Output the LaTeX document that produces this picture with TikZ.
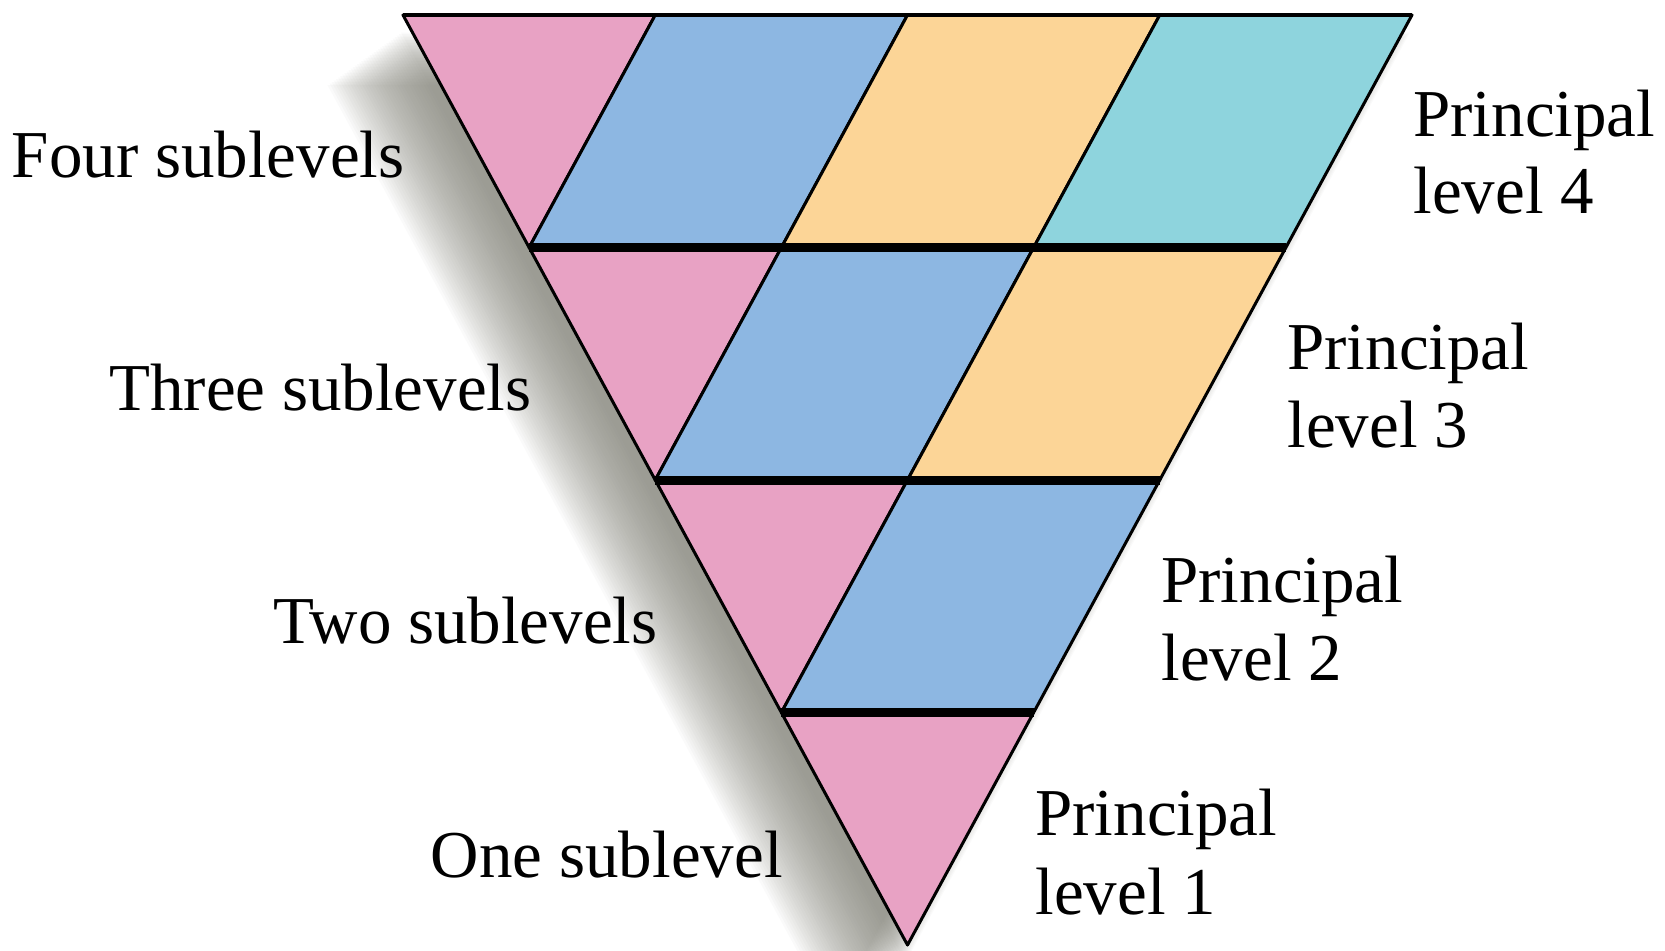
\documentclass[tikz,border=0pt]{standalone}
\usepackage{fontspec}
\setmainfont{Liberation Serif}
\usetikzlibrary{calc}
\definecolor{pinkc}{HTML}{E8A2C4}
\definecolor{bluec}{HTML}{8DB7E2}
\definecolor{orangec}{HTML}{FCD597}
\definecolor{tealc}{HTML}{8ED4DD}
\definecolor{shadowc}{HTML}{77776C}
\begin{document}
\begin{tikzpicture}[x=0.5pt,y=-0.5pt,
  piece/.style={draw=black,line width=1.5pt,line join=round},
  sep/.style={draw=black,line width=4.5pt},
  lab/.style={font=\fontsize{33.5}{39}\selectfont,inner sep=0pt}]
\useasboundingbox (0,0) rectangle (1665,950);
\clip (0,0) rectangle (1665,950);
% grid points
\foreach \r in {0,...,4}{
  \pgfmathtruncatemacro\kmax{4-\r}
  \foreach \k in {0,...,\kmax}{
    \coordinate (p-\r-\k) at ({403+\r*126.125+\k*252.25},{15+\r*232.5});
  }
}
% soft shadow on the left
\foreach \i in {1,...,36}{
  \fill[shadowc,opacity=0.035] ($(p-0-0)+(-\i*2.1,16+\i*1.5)$) -- ($(p-0-4)+(-\i*2.1,16+\i*1.5)$) -- ($(p-4-0)+(-\i*2.1,16+\i*1.5)$) -- cycle;
}
\fill[white] (p-0-0) -- (p-0-4) -- (p-4-0) -- cycle;
% pieces
\foreach \r in {0,...,3}{
  \pgfmathtruncatemacro\rn{\r+1}
  \pgfmathtruncatemacro\kmax{3-\r}
  \fill[pinkc,piece] (p-\r-0) -- (p-\r-1) -- (p-\rn-0) -- cycle;
  \foreach \k/\c in {1/bluec,2/orangec,3/tealc}{
    \ifnum\k>\kmax\else
      \pgfmathtruncatemacro\kp{\k+1}
      \pgfmathtruncatemacro\km{\k-1}
      \fill[\c,piece] (p-\r-\k) -- (p-\r-\kp) -- (p-\rn-\k) -- (p-\rn-\km) -- cycle;
    \fi
  }
}
% separators
\draw[line width=2pt] (p-0-0) -- (p-0-4);
\draw[sep] (p-1-0) -- (p-1-3);
\draw[sep] (p-2-0) -- (p-2-2);
\draw[sep] (p-3-0) -- (p-3-1);
% left labels
\node[lab,anchor=base east] (l4) at (405,177) {Four sublevels};
\node[lab,anchor=base east] (l3) at (532,410) {Three sublevels};
\node[lab,anchor=base east] (l2) at (658,643) {Two sublevels};
\node[lab,anchor=base east] (l1) at (783,877) {One sublevel};
% right labels
\node[lab,anchor=base west] (r4a) at (1413,136) {Principal};
\node[lab,anchor=base west] (r4b) at (1413,213) {level 4};
\node[lab,anchor=base west] (r3a) at (1287,369) {Principal};
\node[lab,anchor=base west] (r3b) at (1287,447) {level 3};
\node[lab,anchor=base west] (r2a) at (1161,602) {Principal};
\node[lab,anchor=base west] (r2b) at (1161,680) {level 2};
\node[lab,anchor=base west] (r1a) at (1035,835) {Principal};
\node[lab,anchor=base west] (r1b) at (1035,914) {level 1};
\end{tikzpicture}
\end{document}
